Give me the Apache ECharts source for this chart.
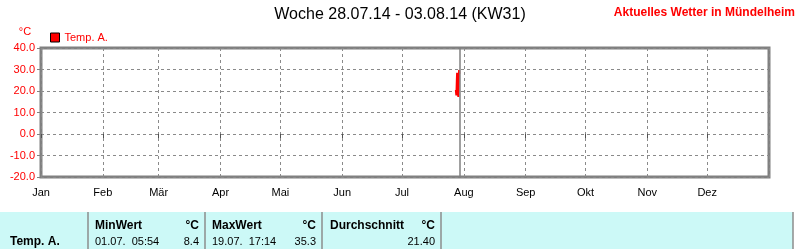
<!DOCTYPE html>
<html><head><meta charset="utf-8">
<script src="https://cdn.jsdelivr.net/npm/echarts@6/dist/echarts.min.js"></script>
<style>html,body{margin:0;padding:0;background:#fff}#c{width:796px;height:249px}</style>
</head><body><div id="c"></div>
<script>
const titleText = 'Woche 28.07.14 - 03.08.14 (KW31)';
const siteText = 'Aktuelles Wetter in Mündelheim';
const unitText = '°C';
const seriesName = 'Temp. A.';
const monthNames = ['Jan','Feb','Mär','Apr','Mai','Jun','Jul','Aug','Sep','Okt','Nov','Dez'];
const yMin = -20, yMax = 40, yStep = 10;
const xStart = '2014-01-01 00:00', xEnd = '2015-01-01 00:00';
const times = ['2014-07-28 00:00','2014-07-28 03:00','2014-07-28 06:00','2014-07-28 09:00','2014-07-28 12:00','2014-07-28 15:00','2014-07-28 18:00','2014-07-28 21:00','2014-07-29 00:00','2014-07-29 03:00','2014-07-29 06:00','2014-07-29 09:00','2014-07-29 12:00','2014-07-29 15:00','2014-07-29 18:00'];
const temps = [20.5,19.0,18.0,21.5,25.5,28.5,27.0,23.0,20.5,18.5,17.2,21.0,26.0,29.8,28.0];
const nowTime = '2014-07-29 18:00';
const rowLabel = 'Temp. A.';
const statHeaders = ['MinWert','MaxWert','Durchschnitt'];
const statTimes = ['01.07.  05:54','19.07.  17:14',''];
const statValues = ['8.4','35.3','21.40'];

const FONT = '"Liberation Sans", Arial, sans-serif';
const colLeft = [95, 212, 330];
const colRight = [199, 316, 435];
const seps = [88, 205, 322, 441, 793];

const graphic = [
  {type:'text', style:{text:titleText, x:400, y:15, textAlign:'center', textVerticalAlign:'middle', font:'16px '+FONT, fill:'#000'}},
  {type:'text', style:{text:siteText, x:795, y:13, textAlign:'right', textVerticalAlign:'middle', font:'bold 12px '+FONT, fill:'#ff0000'}},
  {type:'text', style:{text:unitText, x:25, y:32, textAlign:'center', textVerticalAlign:'middle', font:'11px '+FONT, fill:'#ff0000'}},
  {type:'rect', shape:{x:0, y:212, width:793, height:37}, style:{fill:'#ccf9f7'}},
  {type:'text', style:{text:rowLabel, x:10, y:242, textVerticalAlign:'middle', font:'bold 12px '+FONT, fill:'#000'}}
];
seps.forEach(x => graphic.push({type:'line', shape:{x1:x, y1:212, x2:x, y2:249}, style:{stroke:'#8c8c8c', lineWidth:1.5}}));
statHeaders.forEach((h,i) => {
  graphic.push({type:'text', style:{text:h, x:colLeft[i], y:226, textVerticalAlign:'middle', font:'bold 12px '+FONT, fill:'#000'}});
  graphic.push({type:'text', style:{text:unitText, x:colRight[i], y:226, textAlign:'right', textVerticalAlign:'middle', font:'bold 12px '+FONT, fill:'#000'}});
  graphic.push({type:'text', style:{text:statTimes[i], x:colLeft[i], y:242, textVerticalAlign:'middle', font:'11px '+FONT, fill:'#000'}});
  graphic.push({type:'text', style:{text:statValues[i], x:colRight[i], y:242, textAlign:'right', textVerticalAlign:'middle', font:'11px '+FONT, fill:'#000'}});
});

const chart = echarts.init(document.getElementById('c'), null, {renderer:'canvas'});
chart.setOption({
  animation:false,
  textStyle:{fontFamily:FONT},
  grid:{left:41, right:27, top:48, bottom:72, show:true, borderColor:'#808080', borderWidth:3, backgroundColor:'transparent'},
  legend:{left:50, top:32, padding:0, icon:'rect', itemWidth:9, itemHeight:9, itemGap:5,
    textStyle:{color:'#ff0000', fontSize:11, fontFamily:FONT},
    data:[{name:seriesName, itemStyle:{color:'#ff0000', borderColor:'#000', borderWidth:1}}]},
  xAxis:{type:'time', min:xStart, max:xEnd, splitNumber:12,
    minInterval:28*86400000, maxInterval:31*86400000,
    axisLine:{show:false},
    axisTick:{show:true, length:4, lineStyle:{color:'#505050'}},
    axisLabel:{color:'#000', fontSize:11, fontFamily:FONT, margin:10, showMaxLabel:false, hideOverlap:false,
      formatter:function(v){const d=new Date(v); if(d.getFullYear()!==2014) return ''; return monthNames[d.getMonth()];}},
    splitLine:{show:true, lineStyle:{color:'#8a8a8a', type:[3,3], width:1}}
  },
  yAxis:{type:'value', min:yMin, max:yMax, interval:yStep,
    axisLine:{show:false},
    axisTick:{show:true, length:4, lineStyle:{color:'#808080'}},
    axisLabel:{color:'#ff0000', fontSize:11, fontFamily:FONT, margin:6, formatter:v=>v.toFixed(1)},
    splitLine:{show:true, lineStyle:{color:'#8a8a8a', type:[3,3], width:1}}
  },
  series:[{name:seriesName, type:'line', showSymbol:false, symbol:'none',
    data:times.map((t,i)=>[t,temps[i]]),
    lineStyle:{color:'#ff0000', width:2}, itemStyle:{color:'#ff0000'},
    markLine:{silent:true, symbol:'none', label:{show:false},
      lineStyle:{color:'#808080', type:'solid', width:1.5}, data:[{xAxis:nowTime}]}
  }],
  graphic:graphic
});
</script></body></html>
